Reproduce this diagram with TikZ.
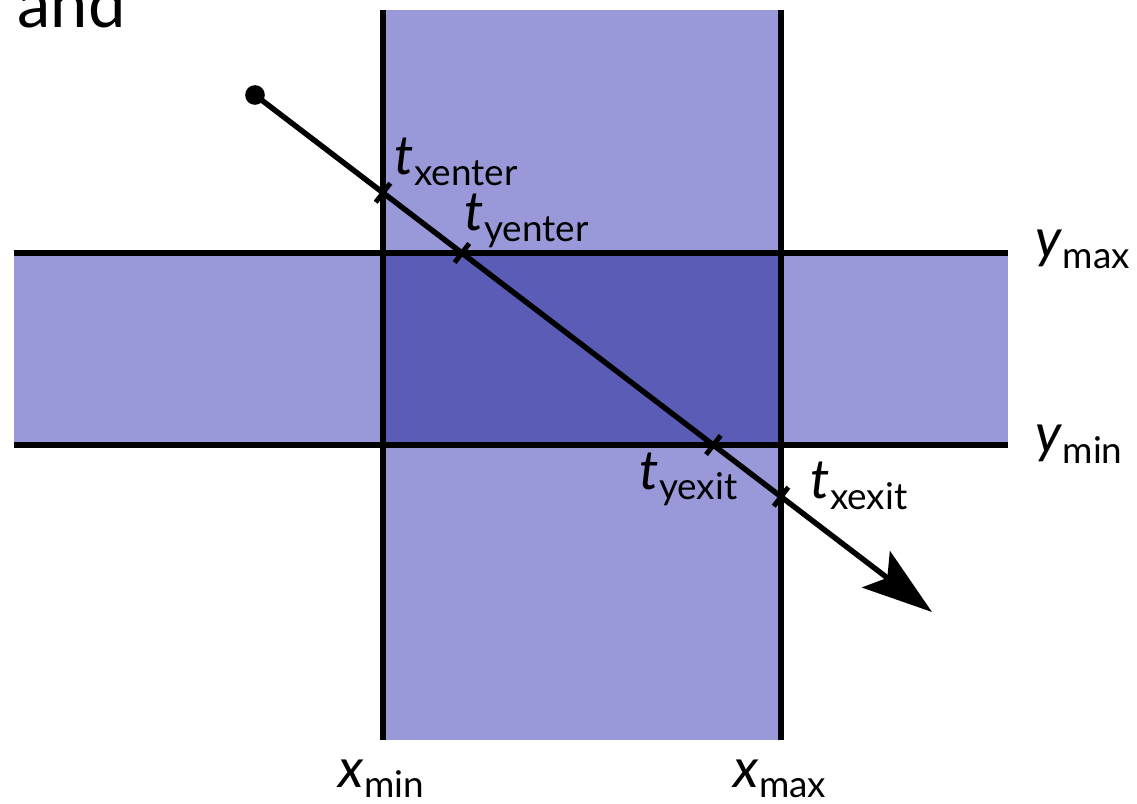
\documentclass[tikz,border=0pt]{standalone}
\usepackage{fontspec}
\setmainfont{Lato}
\usetikzlibrary{arrows.meta,positioning}
\definecolor{slabLight}{RGB}{153,153,217}
\definecolor{slabDark}{RGB}{91,92,182}
% label: italic letter with lowered upright subscript
\newcommand{\tlab}[2]{\fontsize{31}{34}\selectfont\textit{#1}\raisebox{-6pt}{\fontsize{21}{24}\selectfont #2}}

\begin{document}
\begin{tikzpicture}[x=0.02cm,y=-0.02cm, line width=3.1pt,
  tick/.style={line width=2.8pt},
  lab/.style={inner sep=0pt, anchor=base west}]
\useasboundingbox (0,0) rectangle (1137,804);

% slabs
\fill[slabLight] (383,10) rectangle (781,740);
\fill[slabLight] (14,253) rectangle (1008,445);
\fill[slabDark] (383,253) rectangle (781,445);

\coordinate (xMinTop) at (383,10);
\coordinate (xMinBot) at (383,740);
\coordinate (xMaxTop) at (781,10);
\coordinate (xMaxBot) at (781,740);
\coordinate (yMaxLeft) at (14,253);
\coordinate (yMaxRight) at (1008,253);
\coordinate (yMinLeft) at (14,445);
\coordinate (yMinRight) at (1008,445);
\draw (xMinTop) -- (xMinBot);
\draw (xMaxTop) -- (xMaxBot);
\draw (yMaxLeft) -- (yMaxRight);
\draw (yMinLeft) -- (yMinRight);

% ray
\coordinate (rayStart) at (255,95);
\coordinate (rayEnd) at (932,612);
\draw[-{Stealth[length=40pt,width=26pt,inset=8pt]}] (rayStart) -- (rayEnd);
\fill (rayStart) circle[radius=5.6pt];

\coordinate (xEnter) at (intersection of rayStart--rayEnd and xMinTop--xMinBot);
\coordinate (yEnter) at (intersection of rayStart--rayEnd and yMaxLeft--yMaxRight);
\coordinate (yExit) at (intersection of rayStart--rayEnd and yMinLeft--yMinRight);
\coordinate (xExit) at (intersection of rayStart--rayEnd and xMaxTop--xMaxBot);
\foreach \c in {xEnter,yEnter,yExit,xExit}
  \draw[tick] (\c) ++(7.3,-9.5) -- ++(-14.6,19);

% labels
\node[lab] (andText) at (15,28) {\fontsize{38}{42}\selectfont and};
\node[lab] (lxEnter) at (392,175) {\tlab{t}{xenter}};
\node[lab] (lyEnter) at (462,231) {\tlab{t}{yenter}};
\node[lab] (lyExit) at (637,489) {\tlab{t}{yexit}};
\node[lab] (lxExit) at (808,499) {\tlab{t}{xexit}};
\node[lab] (lyMax) at (1033,258) {\tlab{y}{max}};
\node[lab] (lyMin) at (1033,453) {\tlab{y}{min}};
\node[lab] (lxMin) at (336,787) {\tlab{x}{min}};
\node[lab] (lxMax) at (731,787) {\tlab{x}{max}};
\end{tikzpicture}
\end{document}
